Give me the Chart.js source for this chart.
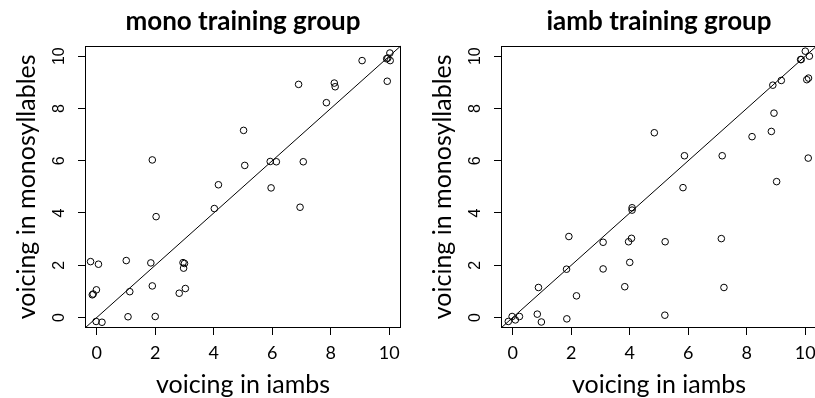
<!DOCTYPE html>
<html>
<head>
<meta charset="utf-8">
<script src="https://cdn.jsdelivr.net/npm/chart.js@4"></script>
<style>
  html, body { margin: 0; padding: 0; background: #fff; overflow: hidden; width: 815px; height: 398px; }
  canvas { position: absolute; top: 0; }
  #monoChart { left: 0; }
  #iambChart { left: 416px; }
</style>
</head>
<body>
<canvas id="monoChart" width="410" height="398"></canvas>
<canvas id="iambChart" width="410" height="398"></canvas>
<script>
// datos: x = voicing in iambs, y = voicing in monosyllables
const monoIambs = [-0.21, 0.06, -0.15, -0.12, -0.01, -0.02, 0.18, 1.01, 1.13, 1.07, 1.90, 2.03, 1.85, 1.90, 2.00,
  2.95, 3.00, 2.97, 3.03, 2.82, 4.02, 4.16, 5.02, 5.06, 5.93, 6.14, 5.96, 7.06, 6.95, 6.90, 7.85, 8.12, 8.15,
  9.07, 9.93, 9.91, 9.95, 10.02, 10.03];
const monoMonos = [2.14, 2.04, 0.87, 0.90, 1.06, -0.15, -0.18, 2.18, 0.99, 0.03, 6.03, 3.86, 2.09, 1.21, 0.04,
  2.10, 2.07, 1.89, 1.11, 0.93, 4.17, 5.08, 7.16, 5.82, 5.97, 5.96, 4.96, 5.96, 4.22, 8.92, 8.22, 8.97, 8.83,
  9.83, 9.04, 9.90, 9.93, 10.12, 9.83];

const iambIambs = [-0.15, -0.02, 0.09, 0.23, 0.88, 0.84, 0.98, 1.85, 1.84, 1.92, 2.18, 3.09, 3.09, 3.83, 3.96,
  4.06, 4.00, 4.08, 4.08, 4.84, 5.21, 5.20, 5.87, 5.82, 7.16, 7.13, 7.22, 8.18, 8.84, 8.93, 8.89, 9.18, 9.02,
  9.84, 9.86, 10.00, 10.14, 10.05, 10.11, 10.10];
const iambMonos = [-0.15, 0.04, -0.09, 0.04, 1.15, 0.13, -0.17, -0.05, 1.85, 3.10, 0.83, 2.88, 1.86, 1.18, 2.90,
  3.03, 2.11, 4.20, 4.11, 7.07, 2.90, 0.09, 6.19, 4.97, 6.19, 3.02, 1.15, 6.92, 7.12, 7.82, 8.89, 9.07, 5.20,
  9.87, 9.87, 10.19, 10.00, 9.10, 9.16, 6.10];

const tickValues = [0, 2, 4, 6, 8, 10];
const axisMin = -0.4;
const axisMax = 10.4;

Chart.defaults.font.family = 'Lato';
Chart.defaults.color = '#000';

// Dibuja la caja completa alrededor del area del grafico (como box() en R)
const cajaPlugin = {
  id: 'caja',
  afterDraw(chart) {
    const a = chart.chartArea;
    const c = chart.ctx;
    c.save();
    c.strokeStyle = '#000';
    c.lineWidth = 1;
    c.strokeRect(Math.round(a.left) + 0.5, Math.round(a.top) + 0.5,
      Math.round(a.right - a.left) - 1, Math.round(a.bottom - a.top) - 1);
    c.restore();
  }
};

const crearGrafico = (id, titulo, xs, ys) => {
  const puntos = xs.map((x, i) => ({ x: x, y: ys[i] }));
  return new Chart(document.getElementById(id), {
    type: 'scatter',
    data: {
      datasets: [{
        data: puntos,
        pointRadius: 3.3,
        pointHoverRadius: 3.3,
        pointBorderWidth: 1,
        borderColor: '#000',
        backgroundColor: 'rgba(0,0,0,0)'
      }, {
        // linea y = x
        type: 'line',
        data: [{ x: axisMin, y: axisMin }, { x: axisMax, y: axisMax }],
        borderColor: '#000',
        borderWidth: 1,
        pointRadius: 0,
        fill: false
      }]
    },
    options: {
      responsive: false,
      animation: false,
      events: [],
      layout: { padding: { left: 0, right: 9, top: 0, bottom: 0 } },
      plugins: {
        legend: { display: false },
        tooltip: { enabled: false },
        title: {
          display: true,
          text: titulo,
          fullSize: false,
          color: '#000',
          font: { size: 26, weight: 'bold', lineHeight: 1.2 },
          padding: { top: 6.5, bottom: 8 }
        }
      },
      scales: {
        x: {
          type: 'linear',
          min: axisMin,
          max: axisMax,
          afterBuildTicks: (s) => { s.ticks = tickValues.map(v => ({ value: v })); },
          afterFit: (s) => { s.height = 70; },
          grid: { drawOnChartArea: false, drawTicks: true, tickLength: 7, color: '#000' },
          border: { display: false },
          ticks: { font: { size: 18 }, padding: 7, color: '#000', maxRotation: 0 },
          title: { display: true, text: 'voicing in iambs', font: { size: 25, lineHeight: 1 }, padding: { top: 0, bottom: 1 }, color: '#000' }
        },
        y: {
          type: 'linear',
          min: axisMin,
          max: axisMax,
          afterBuildTicks: (s) => { s.ticks = tickValues.map(v => ({ value: v })); },
          afterFit: (s) => { s.width = 85; },
          grid: { drawOnChartArea: false, drawTicks: true, tickLength: 7, color: '#000' },
          border: { display: false },
          ticks: { font: { size: 16, family: 'Liberation Sans' }, padding: 10, color: '#000', minRotation: 90, maxRotation: 90, crossAlign: 'center' },
          title: { display: true, text: 'voicing in monosyllables', font: { size: 25, lineHeight: 1 }, padding: { top: 14, bottom: 0 }, color: '#000' }
        }
      }
    },
    plugins: [cajaPlugin]
  });
};

crearGrafico('monoChart', 'mono training group', monoIambs, monoMonos);
crearGrafico('iambChart', 'iamb training group', iambIambs, iambMonos);
</script>
</body>
</html>
